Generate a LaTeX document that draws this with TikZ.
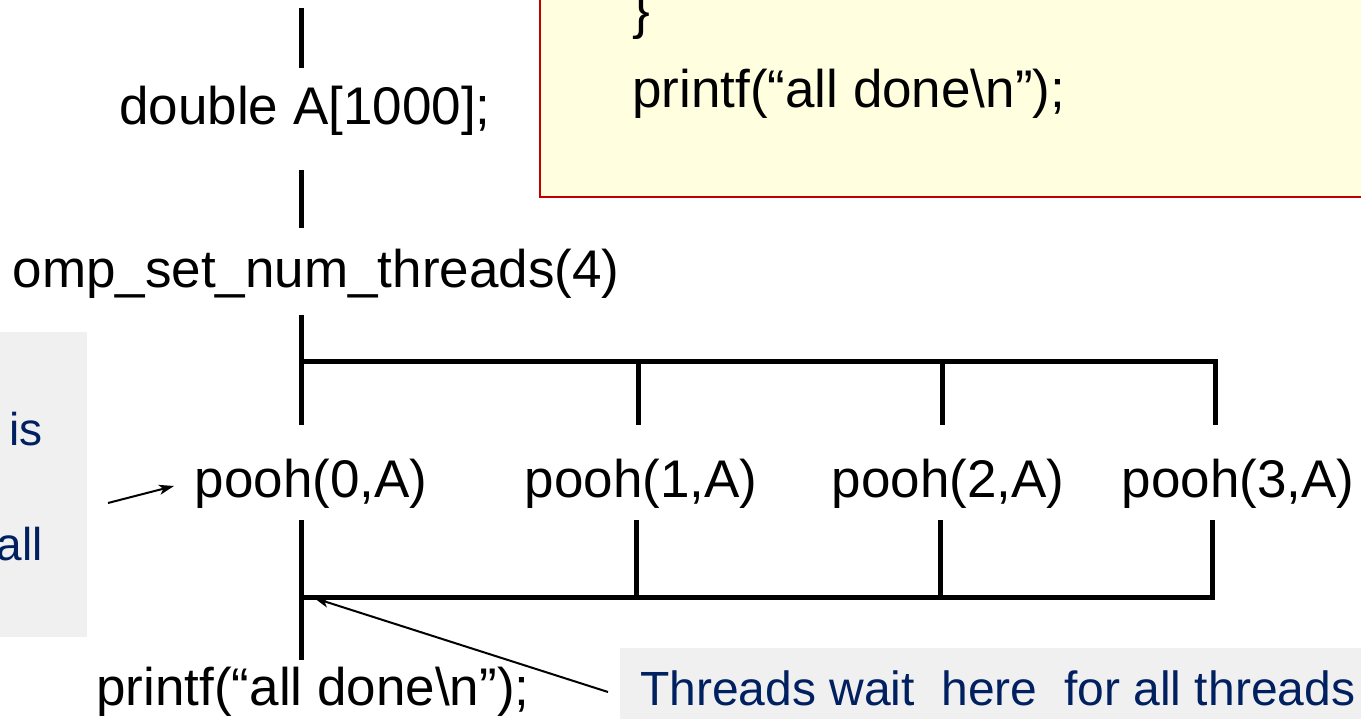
\documentclass[tikz,border=0pt]{standalone}
\usepackage{fontspec}
\setmainfont{Liberation Sans}
\usetikzlibrary{arrows.meta}
\definecolor{navy}{RGB}{0,32,96}
\definecolor{greyfill}{RGB}{240,240,240}
\definecolor{codefill}{RGB}{255,255,224}
\definecolor{codeborder}{RGB}{192,0,0}
\begin{document}
\begin{tikzpicture}[x=1pt,y=-1pt,
  big/.style={inner sep=0pt,anchor=base,font=\fontsize{53}{64}\selectfont},
  note/.style={inner sep=0pt,text=navy,font=\fontsize{46}{56}\selectfont},
  thread/.style={line width=5pt},
  pointer/.style={line width=2pt,-{Stealth[length=15pt,width=10pt,inset=4pt]}}]
\useasboundingbox (0,0) rectangle (1361,719);
% background boxes
\fill[greyfill] (0,332) rectangle (87,637);
\fill[greyfill] (620,648) rectangle (1361,719);
\draw[fill=codefill,draw=codeborder,line width=2pt] (540,-10) rectangle (1375,197);
% code text
\node[big,anchor=base west] (brace) at (632,29) {\}};
\node[big,anchor=base west] (codeprint) at (632,108) {printf(“all done\textbackslash n”);};
% left note
\node[note,anchor=base east] (is) at (43,446) {is};
\node[note,anchor=base east] (all) at (43,560) {all};
% main flow texts
\node[big] (dbl) at (305,125) {double A[1000];};
\node[big] (omp) at (316,288) {omp\_set\_num\_threads(4)};
\node[big] (p0) at (311,497) {pooh(0,A)};
\node[big] (p1) at (641,497) {pooh(1,A)};
\node[big] (p2) at (948,497) {pooh(2,A)};
\node[big] (p3) at (1238,497) {pooh(3,A)};
\node[big] (done) at (313,705) {printf(“all done\textbackslash n”);};
\node[note,anchor=base west,font=\fontsize{48}{58}\selectfont] (wait) at (640,705) {Threads wait\ \ here\ \ for all threads};
% coordinates for the thread lines
\coordinate (t0) at (301,8);
\coordinate (t1) at (301,68);
\coordinate (t2) at (301,170);
\coordinate (t3) at (301,228);
\coordinate (f0) at (301,315);
\coordinate (f1) at (301,425);
\coordinate (fork) at (301,362);
\coordinate (fr) at (1215,362);
\coordinate (a1) at (638,362);
\coordinate (a1e) at (638,425);
\coordinate (a2) at (942,362);
\coordinate (a2e) at (942,425);
\coordinate (a3e) at (1215,425);
\coordinate (b0) at (301,520);
\coordinate (b0e) at (301,660);
\coordinate (join) at (301,597);
\coordinate (jr) at (1212,597);
\coordinate (b1) at (636,520);
\coordinate (b1e) at (636,597);
\coordinate (b2) at (940,520);
\coordinate (b2e) at (940,597);
\coordinate (b3) at (1212,520);
\draw[thread] (t0) -- (t1);
\draw[thread] (t2) -- (t3);
\draw[thread] (f0) -- (f1);
\draw[thread] (fork) -- (fr) -- (a3e);
\draw[thread] (a1) -- (a1e);
\draw[thread] (a2) -- (a2e);
\draw[thread] (b0) -- (b0e);
\draw[thread] (b3) -- (jr) -- (join);
\draw[thread] (b1) -- (b1e);
\draw[thread] (b2) -- (b2e);
% pointers
\coordinate (ls) at (108,503);
\coordinate (le) at (174,486);
\draw[pointer] (ls) -- (le);
\coordinate (ws) at (608,692);
\coordinate (we) at (314,598);
\draw[pointer] (ws) -- (we);
\end{tikzpicture}
\end{document}
